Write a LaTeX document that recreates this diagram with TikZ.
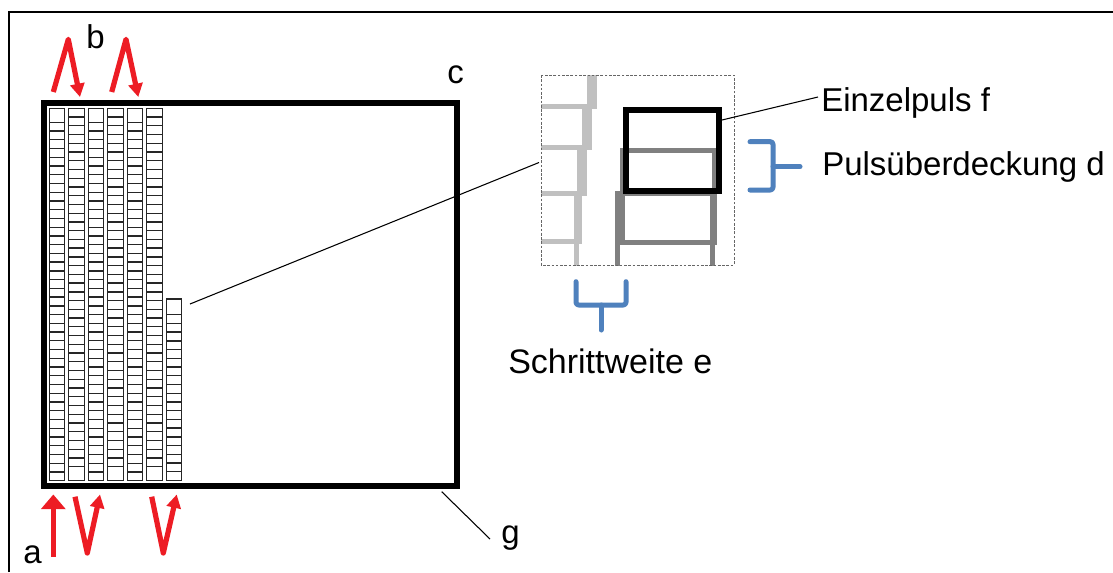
\documentclass[tikz,border=0pt]{standalone}
\usepackage{fontspec}
\setmainfont{Liberation Sans}
\usetikzlibrary{arrows.meta}
\definecolor{arrowred}{HTML}{ED1C24}
\definecolor{braceblue}{HTML}{4F81BD}
\definecolor{lgray}{HTML}{C0C0C0}
\definecolor{mgray}{HTML}{808080}
\begin{document}
\begin{tikzpicture}[x=0.75pt,y=-0.75pt,
  lbl/.style={inner sep=0pt, font=\fontsize{24.75}{30}\selectfont},
  cell/.style={draw=black!85, line width=1.0pt},
  redarrow/.style={draw=arrowred, line width=3.9pt, line join=round,
    -{Triangle[width=10.5pt,length=10pt]}},
  bigredarrow/.style={draw=arrowred, line width=3.9pt,
    -{Triangle[width=18pt,length=11pt]}},
  bracestyle/.style={draw=braceblue, line width=3.75pt, line cap=round, line join=round, rounded corners=2pt},
  thinline/.style={draw=black, line width=0.8pt},
  lgpulse/.style={draw=lgray, line width=3.75pt},
  mgpulse/.style={draw=mgray, line width=3.75pt},
  bkpulse/.style={draw=black, line width=4pt},
  zoomframe/.style={draw=black!60, line width=0.75pt, dash pattern=on 2pt off 1.2pt}]
\useasboundingbox (0,0) rectangle (1113,572);
\fill[white] (0,0) rectangle (1113,572);
% outer frame (top and left edges)
\draw[line width=1.5pt] (9,572) -- (9,12) -- (1113,12);
% main square
\draw[line width=4.5pt] (44,103) rectangle (456.5,486);
% six full columns of pulses
\foreach \i in {0,...,5} {
  \pgfmathsetmacro\xl{49.3+19.5*\i}
  \ifodd\i \def\ystart{108.3}\else\def\ystart{113.56}\fi
  \draw[cell] (\xl,108.3) rectangle ++(15.5,372.2);
  \foreach \k in {1,...,41} {
    \draw[cell] (\xl,\ystart+\k*8.74) -- ++(15.5,0);
  }
}
% seventh, partial column
\draw[cell] (166.3,299) rectangle (181.8,480.5);
\foreach \k in {0,...,18} {
  \draw[cell] (166.3,314.7+\k*8.726) -- (181.8,314.7+\k*8.726);
}
% red arrows on top
\draw[redarrow] (53.3,92) -- (68.3,39.3) -- (80,97);
\draw[redarrow] (111.7,92) -- (126,39.3) -- (138.3,97);
% red arrows at bottom
\draw[bigredarrow] (53.3,556.7) -- (53.3,494.5);
\draw[redarrow] (75,496.7) -- (87.3,553) -- (100,494.5);
\draw[redarrow] (151.7,496.7) -- (163.3,553) -- (176.7,494.5);
% zoomed detail
\begin{scope}
  \clip (541,75) rectangle (734,265);
  \draw[lgpulse] (500,20) rectangle (594,106.7);
  \draw[lgpulse] (500,63) rectangle (589,147.3);
  \draw[lgpulse] (500,106.7) rectangle (584,193.3);
  \draw[lgpulse] (500,147.3) rectangle (579,241.7);
  \draw[lgpulse] (500,193.3) rectangle (576,290);
  \draw[lgpulse] (500,241.7) rectangle (576,340);
  \draw[mgpulse] (622,150) rectangle (714,242);
  \draw[mgpulse] (617,193) rectangle (712,300);
  \draw[bkpulse] (626,110) rectangle (719,191);
\end{scope}
\draw[zoomframe] (541,75) rectangle (734,265);
% braces
\draw[bracestyle] (750,141.7) -- (773,141.7) -- (773,190) -- (750,190);
\draw[bracestyle] (773,166.7) -- (800,166.7);
\draw[bracestyle] (576,281.7) -- (576,305) -- (626,305) -- (626,281.7);
\draw[bracestyle] (601,305) -- (601,330);
% labels
\node[lbl, anchor=base west] (la) at (23,563) {a};
\node[lbl, anchor=base west] (lb) at (86,48) {b};
\node[lbl, anchor=base west] (lc) at (447,83) {c};
\node[lbl, anchor=base west] (lg) at (501,543) {g};
\node[lbl, anchor=base west] (lf) at (821,111) {Einzelpuls f};
\node[lbl, anchor=base west] (ld) at (822,175) {Pulsüberdeckung d};
\node[lbl, anchor=base west, font=\fontsize{25.5}{30}\selectfont] (le) at (508,373) {Schrittweite e};
% connector end points
\coordinate (colseven) at (190,304);
\coordinate (zoomleft) at (539,162.5);
\coordinate (pulseright) at (722,120);
\coordinate (ftext) at (818,97);
\coordinate (sqcorner) at (441.7,491.7);
\coordinate (gend) at (490,539);
\draw[thinline] (colseven) -- (zoomleft);
\draw[thinline] (pulseright) -- (ftext);
\draw[thinline] (sqcorner) -- (gend);
\end{tikzpicture}
\end{document}
